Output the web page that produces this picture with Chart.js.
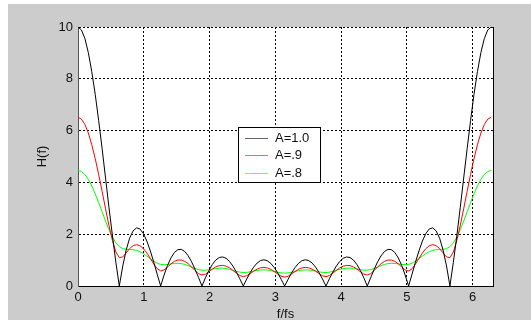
<!DOCTYPE html>
<html>
<head>
<meta charset="utf-8">
<script src="https://cdn.jsdelivr.net/npm/chart.js@4"></script>
<style>
html, body { margin: 0; padding: 0; background: #fff; }
#wrap { width: 531px; height: 320px; }
</style>
</head>
<body>
<div id="wrap"><canvas id="plot" width="531" height="320"></canvas></div>
<script>
// normalised frequency samples, 0 .. 2*pi
const freq = [
  0, 0.052, 0.105, 0.157, 0.209, 0.262, 0.314, 0.367, 0.419, 0.471, 0.524, 0.576, 0.628,
  0.681, 0.733, 0.785, 0.838, 0.890, 0.942, 0.995, 1.047, 1.100, 1.152, 1.204, 1.257,
  1.309, 1.361, 1.414, 1.466, 1.518, 1.571, 1.623, 1.676, 1.728, 1.780, 1.833, 1.885,
  1.937, 1.990, 2.042, 2.094, 2.147, 2.199, 2.251, 2.304, 2.356, 2.409, 2.461, 2.513,
  2.566, 2.618, 2.670, 2.723, 2.775, 2.827, 2.880, 2.932, 2.985, 3.037, 3.089, 3.142,
  3.194, 3.246, 3.299, 3.351, 3.403, 3.456, 3.508, 3.560, 3.613, 3.665, 3.718, 3.770,
  3.822, 3.875, 3.927, 3.979, 4.032, 4.084, 4.136, 4.189, 4.241, 4.294, 4.346, 4.398,
  4.451, 4.503, 4.555, 4.608, 4.660, 4.712, 4.765, 4.817, 4.869, 4.922, 4.974, 5.027,
  5.079, 5.131, 5.184, 5.236, 5.288, 5.341, 5.393, 5.445, 5.498, 5.550, 5.603, 5.655,
  5.707, 5.760, 5.812, 5.864, 5.917, 5.969, 6.021, 6.074, 6.126, 6.178, 6.231, 6.283
];

// |H(f)| for A = 1.0
const hA10 = [
  10, 9.887, 9.554, 9.012, 8.285, 7.400, 6.392, 5.300, 4.165, 3.029, 1.932, 0.911, 0,
  0.775, 1.395, 1.848, 2.129, 2.244, 2.203, 2.024, 1.732, 1.353, 0.918, 0.457, 0,
  0.425, 0.795, 1.089, 1.294, 1.403, 1.414, 1.332, 1.165, 0.930, 0.643, 0.326, 0,
  0.314, 0.596, 0.829, 1.000, 1.099, 1.122, 1.070, 0.948, 0.765, 0.536, 0.275, 0,
  0.270, 0.518, 0.727, 0.885, 0.982, 1.012, 0.974, 0.871, 0.709, 0.501, 0.259, 0,
  0.259, 0.501, 0.709, 0.871, 0.974, 1.012, 0.982, 0.885, 0.727, 0.518, 0.270, 0,
  0.275, 0.536, 0.765, 0.948, 1.070, 1.122, 1.099, 1.000, 0.829, 0.596, 0.314, 0,
  0.326, 0.643, 0.930, 1.165, 1.332, 1.414, 1.403, 1.294, 1.089, 0.795, 0.425, 0,
  0.457, 0.918, 1.353, 1.732, 2.024, 2.203, 2.244, 2.129, 1.848, 1.395, 0.775, 0,
  0.911, 1.932, 3.029, 4.165, 5.300, 6.392, 7.400, 8.285, 9.012, 9.554, 9.887, 10
];

// |H(f)| for A = 0.9
const hA09 = [
  6.513, 6.444, 6.238, 5.905, 5.459, 4.918, 4.306, 3.649, 2.980, 2.332, 1.754, 1.313, 1.095,
  1.122, 1.279, 1.445, 1.558, 1.596, 1.555, 1.442, 1.271, 1.063, 0.847, 0.667, 0.582,
  0.621, 0.734, 0.857, 0.952, 1.003, 1.002, 0.952, 0.858, 0.732, 0.595, 0.477, 0.423,
  0.459, 0.551, 0.653, 0.737, 0.786, 0.796, 0.766, 0.698, 0.603, 0.496, 0.402, 0.360,
  0.395, 0.479, 0.573, 0.652, 0.703, 0.719, 0.697, 0.642, 0.559, 0.463, 0.379, 0.343,
  0.379, 0.463, 0.559, 0.642, 0.697, 0.719, 0.703, 0.652, 0.573, 0.479, 0.395, 0.360,
  0.402, 0.496, 0.603, 0.698, 0.766, 0.796, 0.786, 0.737, 0.653, 0.551, 0.459, 0.423,
  0.477, 0.595, 0.732, 0.858, 0.952, 1.002, 1.003, 0.952, 0.857, 0.734, 0.621, 0.582,
  0.667, 0.847, 1.063, 1.271, 1.442, 1.555, 1.596, 1.558, 1.445, 1.279, 1.122, 1.095,
  1.313, 1.754, 2.332, 2.980, 3.649, 4.306, 4.918, 5.459, 5.905, 6.238, 6.444, 6.513
];

// |H(f)| for A = 0.8
const hA08 = [
  4.463, 4.423, 4.306, 4.116, 3.863, 3.559, 3.219, 2.861, 2.505, 2.172, 1.885, 1.664, 1.518,
  1.443, 1.416, 1.410, 1.402, 1.375, 1.324, 1.248, 1.154, 1.052, 0.956, 0.880, 0.834,
  0.821, 0.832, 0.853, 0.872, 0.877, 0.865, 0.833, 0.787, 0.732, 0.677, 0.634, 0.611,
  0.611, 0.628, 0.654, 0.677, 0.691, 0.689, 0.673, 0.642, 0.604, 0.565, 0.535, 0.521,
  0.526, 0.547, 0.574, 0.601, 0.618, 0.623, 0.613, 0.591, 0.560, 0.529, 0.505, 0.496,
  0.505, 0.529, 0.560, 0.591, 0.613, 0.623, 0.618, 0.601, 0.574, 0.547, 0.526, 0.521,
  0.535, 0.565, 0.604, 0.642, 0.673, 0.689, 0.691, 0.677, 0.654, 0.628, 0.611, 0.611,
  0.634, 0.677, 0.732, 0.787, 0.833, 0.865, 0.877, 0.872, 0.853, 0.832, 0.821, 0.834,
  0.880, 0.956, 1.052, 1.154, 1.248, 1.324, 1.375, 1.402, 1.410, 1.416, 1.443, 1.518,
  1.664, 1.885, 2.172, 2.505, 2.861, 3.219, 3.559, 3.863, 4.116, 4.306, 4.423, 4.463
];

const seriesNames = ['A=1.0', 'A=.9', 'A=.8'];
const seriesColors = ['#000000', '#ff0000', '#00ff00'];

const FONT = 'Liberation Sans, Arial, sans-serif';

function toPoints(vals) {
  return freq.map((f, i) => ({ x: f, y: vals[i] }));
}

// grey figure background, white axes box, right edge and boxed legend
const figureFrame = {
  id: 'figureFrame',
  beforeDraw(chart) {
    const { ctx, chartArea: a } = chart;
    ctx.save();
    ctx.fillStyle = '#ffffff';
    ctx.fillRect(0, 0, chart.width, chart.height);
    ctx.fillStyle = '#cccccc';
    ctx.fillRect(8, 4, chart.width - 8, chart.height - 4);
    ctx.fillStyle = '#ffffff';
    ctx.fillRect(a.left, a.top, a.right - a.left, a.bottom - a.top);
    ctx.restore();
  },
  afterDraw(chart) {
    const { ctx, chartArea: a } = chart;
    ctx.save();
    ctx.strokeStyle = '#000';
    ctx.lineWidth = 1;
    ctx.beginPath();
    ctx.moveTo(a.right + 0.5, a.top);
    ctx.lineTo(a.right + 0.5, a.bottom + 1);
    ctx.stroke();

    // legend box
    const bx = 238, by = 127, bw = 82, bh = 55;
    ctx.fillStyle = '#fff';
    ctx.fillRect(bx, by, bw, bh);
    ctx.strokeRect(bx + 0.5, by + 0.5, bw, bh);
    ctx.font = '13px ' + FONT;
    ctx.textBaseline = 'middle';
    ctx.textAlign = 'left';
    chart.data.datasets.forEach((ds, i) => {
      const y = by + 11 + i * 17.3;
      ctx.strokeStyle = ds.borderColor;
      ctx.globalAlpha = 0.6;
      ctx.beginPath();
      ctx.moveTo(bx + 7, Math.round(y) + 0.5);
      ctx.lineTo(bx + 30, Math.round(y) + 0.5);
      ctx.stroke();
      ctx.globalAlpha = 1;
      ctx.fillStyle = '#111';
      ctx.fillText(ds.label, bx + 37, y + 0.5);
    });
    ctx.restore();
  }
};

new Chart(document.getElementById('plot'), {
  type: 'line',
  data: {
    datasets: [
      { label: seriesNames[0], data: toPoints(hA10), borderColor: seriesColors[0] },
      { label: seriesNames[1], data: toPoints(hA09), borderColor: seriesColors[1] },
      { label: seriesNames[2], data: toPoints(hA08), borderColor: seriesColors[2] }
    ]
  },
  options: {
    responsive: false,
    animation: false,
    devicePixelRatio: 1,
    layout: { padding: { left: 0, top: 27, right: 38, bottom: 0 } },
    elements: {
      line: { borderWidth: 1, tension: 0 },
      point: { radius: 0 }
    },
    plugins: {
      legend: { display: false },
      tooltip: { enabled: false }
    },
    scales: {
      x: {
        type: 'linear',
        min: 0,
        max: 6.31,
        afterFit(scale) { scale.height = 34; },
        ticks: {
          stepSize: 1,
          includeBounds: false,
          autoSkip: false,
          maxRotation: 0,
          padding: 4,
          color: '#111',
          font: { family: FONT, size: 13 }
        },
        grid: { color: '#000', lineWidth: 1, drawTicks: false },
        border: { color: '#000', width: 1, dash: [2, 2] },
        title: {
          display: true,
          text: 'f/fs',
          color: '#111',
          font: { family: FONT, size: 13, lineHeight: 1 },
          padding: { top: 0, bottom: -1 }
        }
      },
      y: {
        min: 0,
        max: 10,
        afterFit(scale) { scale.width = 78; },
        ticks: {
          stepSize: 2,
          padding: 5,
          color: '#111',
          font: { family: FONT, size: 13 }
        },
        grid: { color: '#000', lineWidth: 1, drawTicks: false },
        border: { color: '#555', width: 1, dash: [2, 2] },
        title: {
          display: true,
          text: 'H(f)',
          color: '#111',
          font: { family: FONT, size: 13, lineHeight: 1 },
          padding: { top: 36, bottom: 0 }
        }
      }
    }
  },
  plugins: [figureFrame]
});
</script>
</body>
</html>
